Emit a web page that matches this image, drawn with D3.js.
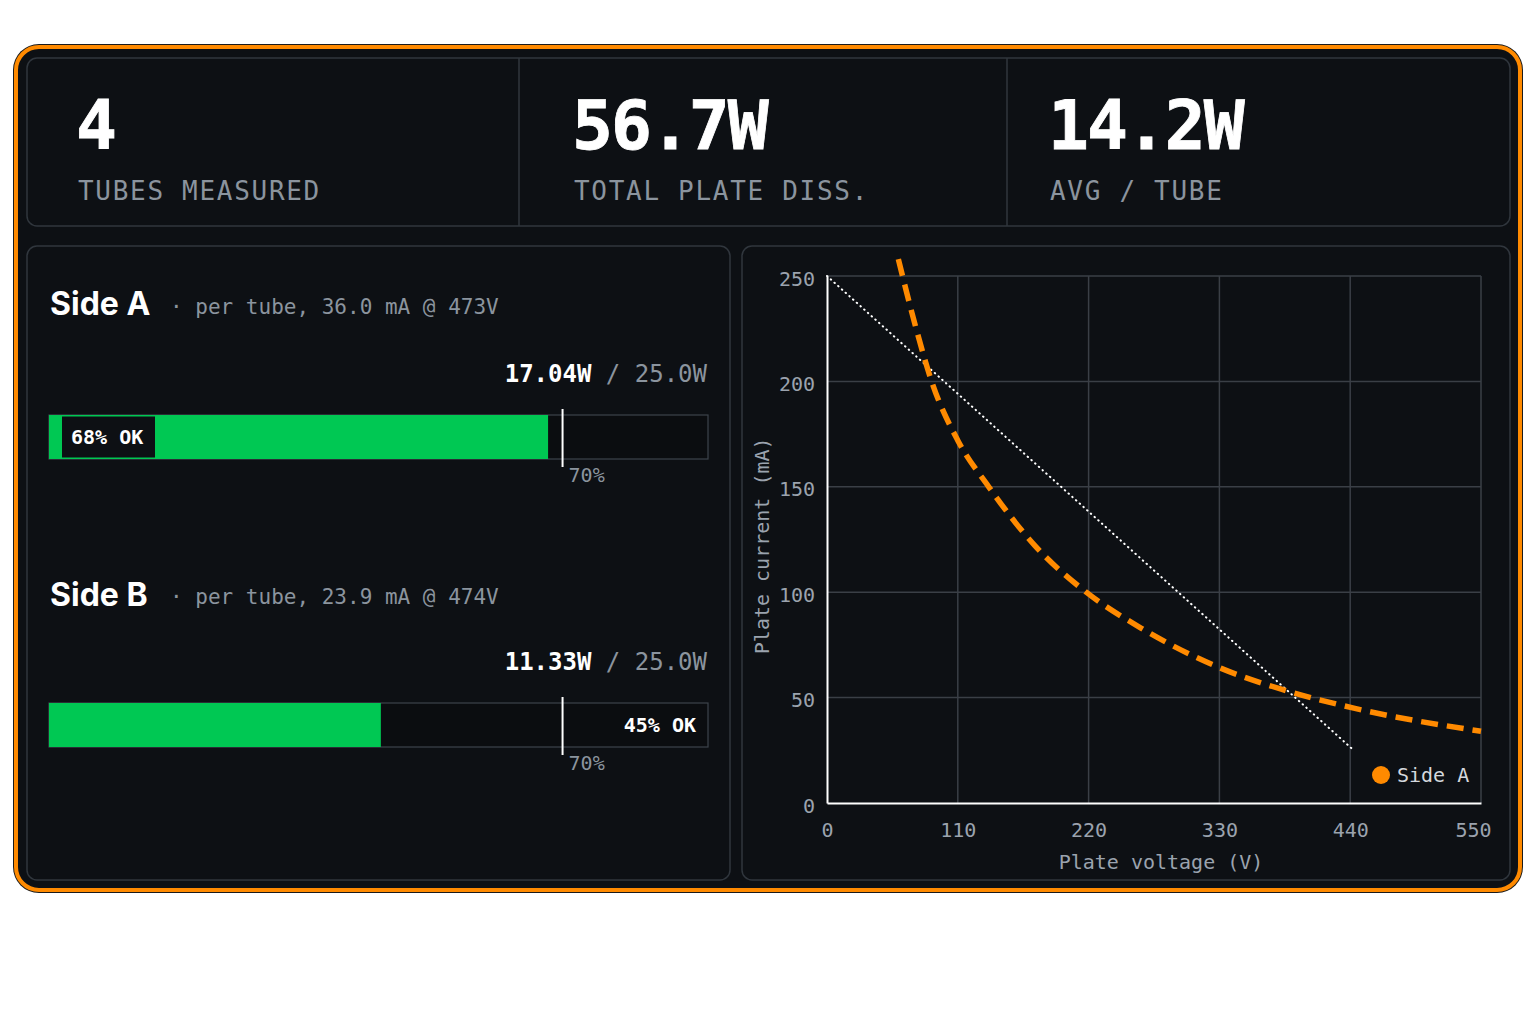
<!DOCTYPE html>
<html>
<head>
<meta charset="utf-8">
<script src="https://cdn.jsdelivr.net/npm/d3@7"></script>
<style>
  html, body { margin: 0; padding: 0; background: #ffffff; }
  svg { display: block; }
</style>
</head>
<body>
<svg id="board" width="1536" height="1024"></svg>
<script>
// KPI strip
const kpiValues = ["4", "56.7W", "14.2W"];
const kpiLabels = ["TUBES MEASURED", "TOTAL PLATE DISS.", "AVG / TUBE"];

// per side dissipation
const sideNames = ["Side A", "Side B"];
const sideCurrent = [36.0, 23.9];   // mA per tube
const sideVoltage = [473, 474];     // V
const sideWatts = [17.04, 11.33];   // W per tube
const ratedWatts = 25.0;
const limitPct = 70;

// plate curve
const curveV = [60, 75, 88, 110, 136, 175, 218, 264, 331, 382, 443, 550];
const curveI = [258, 225, 200, 172, 150, 122, 100, 83, 64, 54, 45, 34];
const loadV = [0, 441];
const loadI = [250, 26];
const xTicks = [0, 110, 220, 330, 440, 550];
const yTicks = [0, 50, 100, 150, 200, 250];

const MONO = "'DejaVu Sans Mono', 'Liberation Mono', monospace";
const SANS = "Inter, 'Noto Sans', sans-serif";
const BG = "#0d1014";
const EDGE = "#30363d";
const GREY = "#8b949e";
const TICK = "#9ba3ae";
const GREEN = "#00c853";
const ORANGE = "#ff8a00";

const svg = d3.select("#board");

// outer card
svg.append("rect").attr("x", 13).attr("y", 44).attr("width", 1510).attr("height", 849)
  .attr("rx", 26).attr("fill", "#1a1a1a");
svg.append("rect").attr("x", 16).attr("y", 47).attr("width", 1504).attr("height", 843)
  .attr("rx", 23).attr("fill", BG).attr("stroke", ORANGE).attr("stroke-width", 4);

// panels
const panel = (x, y, w, h) => svg.append("rect").attr("x", x).attr("y", y)
  .attr("width", w).attr("height", h).attr("rx", 10)
  .attr("fill", BG).attr("stroke", EDGE).attr("stroke-width", 1.5);
panel(27, 58, 1483, 168);
panel(27, 246, 703, 634);
panel(742, 246, 768, 634);

// KPI columns
const kpiX = [76, 572, 1048];
[519, 1007].forEach(x => svg.append("line").attr("x1", x).attr("x2", x)
  .attr("y1", 58).attr("y2", 226).attr("stroke", EDGE).attr("stroke-width", 1.5));

const kpi = svg.append("g").selectAll("g").data(kpiValues).join("g")
  .attr("transform", (d, i) => `translate(${kpiX[i]},0)`);
kpi.append("text").attr("y", 149).text(d => d)
  .attr("font-family", MONO).attr("font-weight", 700).attr("font-size", 68)
  .attr("letter-spacing", -2).attr("fill", "#ffffff")
  .attr("stroke", "#ffffff").attr("stroke-width", 0.8);
kpi.append("text").attr("x", 2).attr("y", 200).text((d, i) => kpiLabels[i])
  .attr("font-family", MONO).attr("font-size", 26).attr("letter-spacing", 1.7)
  .attr("fill", GREY);

// bars
const bx = d3.scaleLinear().domain([0, 90]).range([49, 708]);
const sideTop = [0, 288];

sideNames.forEach((name, i) => {
  const g = svg.append("g").attr("transform", `translate(0,${sideTop[i]})`);
  const pct = sideWatts[i] / ratedWatts * 100;

  g.append("text").attr("x", 50).attr("y", 315 + i * 3).text(name)
    .attr("font-family", SANS).attr("font-weight", 700).attr("font-size", 32).attr("fill", "#fff");
  g.append("text").attr("x", 170).attr("y", 314 + i * 2)
    .attr("font-family", MONO).attr("font-size", 21).attr("fill", GREY)
    .text(`· per tube, ${sideCurrent[i].toFixed(1)} mA @ ${sideVoltage[i]}V`);

  const wt = g.append("text").attr("x", 707).attr("y", 382).attr("text-anchor", "end")
    .attr("font-family", MONO).attr("font-size", 24);
  wt.append("tspan").attr("font-weight", 700).attr("fill", "#fff").text(`${sideWatts[i].toFixed(2)}W`);
  wt.append("tspan").attr("fill", GREY).text(` / ${ratedWatts.toFixed(1)}W`);

  const y0 = 415, h = 44;
  g.append("rect").attr("x", bx(0)).attr("y", y0).attr("width", bx(90) - bx(0)).attr("height", h)
    .attr("fill", "#0b0d10").attr("stroke", "#3d434b").attr("stroke-width", 1.2);
  g.append("rect").attr("x", bx(0)).attr("y", y0).attr("width", bx(pct) - bx(0)).attr("height", h)
    .attr("fill", GREEN);

  const label = `${Math.round(pct)}% OK`;
  if (pct > 60) {
    g.append("rect").attr("x", 62).attr("y", y0 + 1.5).attr("width", 93).attr("height", h - 3)
      .attr("fill", BG);
    g.append("text").attr("x", 71).attr("y", y0 + h / 2 + 7).text(label)
      .attr("font-family", MONO).attr("font-weight", 700).attr("font-size", 20).attr("fill", "#fff");
  } else {
    g.append("text").attr("x", 696).attr("y", y0 + h / 2 + 7).attr("text-anchor", "end").text(label)
      .attr("font-family", MONO).attr("font-weight", 700).attr("font-size", 20).attr("fill", "#fff");
  }

  g.append("line").attr("x1", bx(limitPct) + 1).attr("x2", bx(limitPct) + 1)
    .attr("y1", y0 - 6).attr("y2", y0 + h + 8).attr("stroke", "#fff").attr("stroke-width", 2);
  g.append("text").attr("x", bx(limitPct) + 7).attr("y", 482).text(`${limitPct}%`)
    .attr("font-family", MONO).attr("font-size", 20).attr("fill", GREY);
});

// plate chart
const x = d3.scaleLinear().domain([0, 550]).range([827, 1481]);
const y = d3.scaleLinear().domain([0, 250]).range([803, 276]);
const chart = svg.append("g");

chart.append("g").selectAll("line").data(xTicks.slice(1)).join("line")
  .attr("x1", d => x(d)).attr("x2", d => x(d)).attr("y1", y(0)).attr("y2", y(250))
  .attr("stroke", "#3a3f46").attr("stroke-width", 1.5);
chart.append("g").selectAll("line").data(yTicks.slice(1)).join("line")
  .attr("x1", x(0)).attr("x2", x(550)).attr("y1", d => y(d)).attr("y2", d => y(d))
  .attr("stroke", "#3a3f46").attr("stroke-width", 1.5);

const xAxis = chart.append("g").attr("transform", `translate(0,${y(0)})`)
  .call(d3.axisBottom(x).tickValues(xTicks).tickSize(0).tickPadding(20));
const yAxis = chart.append("g").attr("transform", `translate(${x(0)},0)`)
  .call(d3.axisLeft(y).tickValues(yTicks).tickSize(0).tickPadding(12));
[xAxis, yAxis].forEach(a => {
  a.select(".domain").attr("stroke", "#ffffff").attr("stroke-width", 2);
  a.selectAll("text").attr("font-family", MONO).attr("font-size", 20).attr("fill", TICK);
});
yAxis.selectAll("text").attr("dy", "0.45em");
xAxis.selectAll(".tick").filter(d => d === 550).select("text").attr("dx", -8);

chart.append("text").attr("x", 1161).attr("y", 869).attr("text-anchor", "middle")
  .attr("font-family", MONO).attr("font-size", 20).attr("fill", TICK).text("Plate voltage (V)");
chart.append("text").attr("transform", `translate(769,${y(122)}) rotate(-90)`)
  .attr("text-anchor", "middle")
  .attr("font-family", MONO).attr("font-size", 20).attr("fill", TICK).text("Plate current (mA)");

const line = d3.line().x(d => x(d[0])).y(d => y(d[1]));

chart.append("path").datum(loadV.map((v, i) => [v, loadI[i]]))
  .attr("d", line).attr("fill", "none").attr("stroke", "#ffffff")
  .attr("stroke-width", 2).attr("stroke-linecap", "round").attr("stroke-dasharray", "0.5,4.5");

chart.append("path").datum(curveV.map((v, i) => [v, curveI[i]]))
  .attr("d", line.curve(d3.curveMonotoneX)).attr("fill", "none").attr("stroke", ORANGE)
  .attr("stroke-width", 5.5).attr("stroke-dasharray", "17,9");

// legend
chart.append("circle").attr("cx", 1381).attr("cy", 775).attr("r", 9).attr("fill", ORANGE);
chart.append("text").attr("x", 1397).attr("y", 782).text(sideNames[0])
  .attr("font-family", MONO).attr("font-size", 20).attr("fill", "#d4d8dd");
</script>
</body>
</html>
